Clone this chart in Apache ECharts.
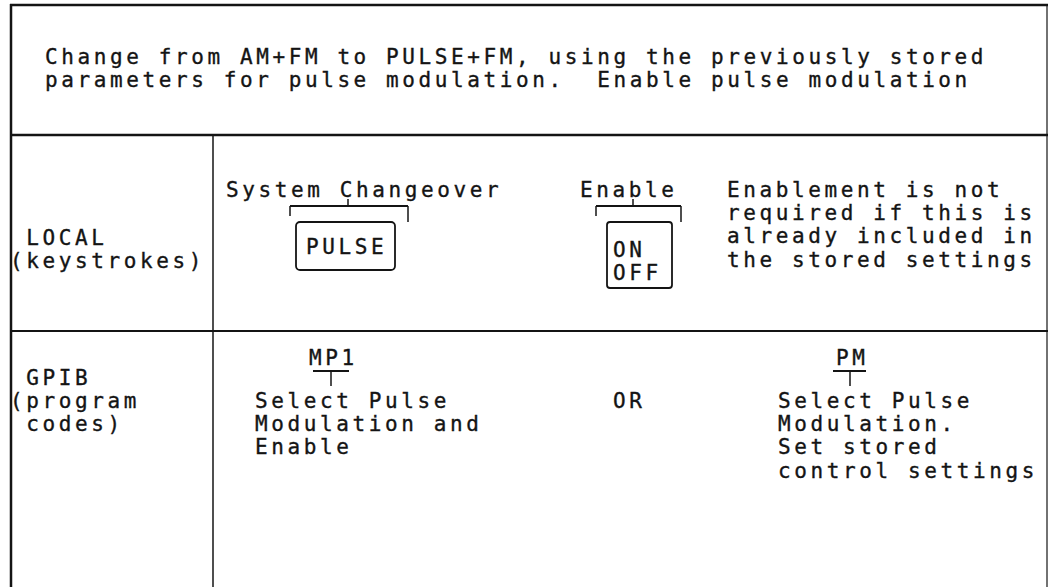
<!DOCTYPE html>
<html>
<head>
<meta charset="utf-8">
<script src="https://cdn.jsdelivr.net/npm/echarts@6/dist/echarts.min.js"></script>
<style>
  html, body { margin: 0; padding: 0; background: #fff; }
  #chart { width: 1054px; height: 587px; }
  #chart text { letter-spacing: 3.6px; white-space: pre; }
</style>
</head>
<body>
<div id="chart"></div>
<script>
// ---- texts (data) ----
const headerLines = [
  "Change from AM+FM to PULSE+FM, using the previously stored",
  "parameters for pulse modulation.  Enable pulse modulation"
];
const localLabel = [" LOCAL", "(keystrokes)"];
const gpibLabel = [" GPIB", "(program", " codes)"];
const changeoverTitle = "System Changeover";
const changeoverKey = "PULSE";
const enableTitle = "Enable";
const enableKeys = ["ON", "OFF"];
const enableNote = ["Enablement is not", "required if this is", "already included in", "the stored settings"];
const mp1Code = "MP1";
const mp1Desc = ["Select Pulse", "Modulation and", "Enable"];
const orText = "OR";
const pmCode = "PM";
const pmDesc = ["Select Pulse", "Modulation.", "Set stored", "control settings"];

// ---- drawing ----
const INK = '#141414';
const FONT = '21px "DejaVu Sans Mono"';
const LH = 23.2;
const els = [];
function txt(s, x, y) {
  els.push({ type: 'text', x: x, y: y, silent: true,
    style: { text: s, font: FONT, fill: INK, stroke: INK, lineWidth: 0.35,
      textAlign: 'left', textVerticalAlign: 'middle', align: 'left', verticalAlign: 'middle' } });
}
function lines(arr, x, y0) { arr.forEach((s, i) => txt(s, x, y0 + i * LH)); }
function ln(x1, y1, x2, y2, w) {
  els.push({ type: 'line', silent: true, shape: { x1, y1, x2, y2 }, style: { stroke: INK, lineWidth: w || 1.5 } });
}

// table frame
ln(10, 5, 1048, 5, 2.5);
ln(11, 4, 11, 587, 2.5);
ln(1047, 4, 1047, 587, 1.2);
ln(10, 135, 1048, 135, 2.5);
ln(10, 331, 1048, 331, 2);
ln(213, 135, 213, 587, 1.5);

// header
lines(headerLines, 45, 57);

// row labels
lines(localLabel, 10, 238);
lines(gpibLabel, 10, 378);

// LOCAL row
txt(changeoverTitle, 226, 190);
ln(348, 199, 348, 206, 1.5);
ln(290, 206, 408, 206, 2);
ln(290, 206, 290, 216, 1.5);
ln(408, 206, 408, 222, 1.5);
els.push({ type: 'rect', silent: true, shape: { x: 296, y: 222, width: 99, height: 48, r: 4 },
  style: { fill: 'none', stroke: INK, lineWidth: 1.8 } });
txt(changeoverKey, 306, 247);

txt(enableTitle, 580, 190);
ln(633, 199, 633, 206, 1.5);
ln(596, 206, 681, 206, 2);
ln(596, 206, 596, 216, 1.5);
ln(681, 206, 681, 222, 1.5);
els.push({ type: 'rect', silent: true, shape: { x: 607, y: 222, width: 65, height: 66, r: 3 },
  style: { fill: 'none', stroke: INK, lineWidth: 1.8 } });
lines(enableKeys, 613, 250);

lines(enableNote, 727, 190);

// GPIB row
txt(mp1Code, 309, 358);
ln(313, 371, 349, 371, 2);
ln(331, 371, 331, 386, 1.5);
lines(mp1Desc, 255, 401);

txt(orText, 613, 401);

txt(pmCode, 836, 358);
ln(833, 371, 866, 371, 2);
ln(850, 371, 850, 386, 1.5);
lines(pmDesc, 778, 401);

const chart = echarts.init(document.getElementById('chart'), null, { renderer: 'svg' });
chart.setOption({ backgroundColor: '#fff', animation: false, graphic: { elements: els } });
</script>
</body>
</html>
